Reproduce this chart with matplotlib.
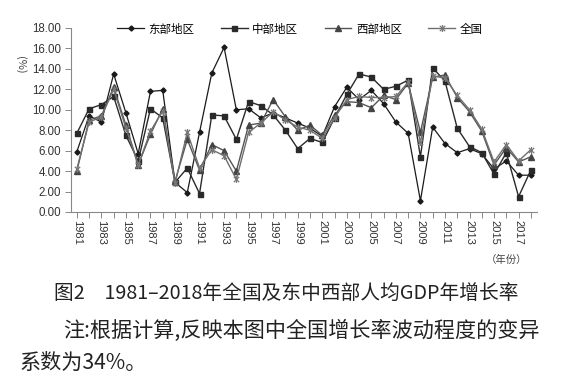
import matplotlib
matplotlib.use("Agg")
import matplotlib.pyplot as plt
from matplotlib.path import Path
import numpy as np

years = list(range(1981, 2019))
east = [5.9, 9.4, 8.8, 13.5, 9.7, 5.7, 11.8, 11.9, 2.9, 1.9,
        7.8, 13.6, 16.1, 10.0, 10.1, 9.2, 9.7, 9.2, 8.7, 8.2,
        7.4, 10.3, 12.2, 11.0, 11.9, 10.6, 8.8, 7.7, 1.1, 8.3,
        6.7, 5.8, 6.2, 5.7, 4.2, 5.0, 3.6, 3.6]
central = [7.7, 10.1, 10.5, 11.3, 7.5, 5.0, 10.1, 9.2, 2.9, 4.3,
           1.8, 9.5, 9.4, 7.1, 10.8, 10.4, 9.5, 8.0, 6.2, 7.2,
           6.8, 9.2, 11.5, 13.5, 13.2, 12.0, 12.3, 12.9, 5.4, 14.1,
           12.8, 8.2, 6.4, 5.8, 3.7, 5.8, 1.5, 4.1]
west = [4.0, 9.0, 9.4, 12.2, 8.5, 4.6, 7.6, 10.1, 3.0, 7.1,
        4.1, 6.6, 6.0, 4.0, 8.5, 8.7, 11.0, 9.3, 8.0, 8.5,
        7.5, 9.5, 10.8, 10.7, 10.2, 11.4, 11.0, 12.6, 7.8, 13.2,
        13.4, 11.2, 9.8, 7.9, 4.6, 6.3, 4.9, 5.4]
national = [4.2, 8.8, 9.3, 12.0, 8.2, 4.6, 7.9, 9.9, 2.8, 7.8,
            4.3, 6.1, 5.5, 3.2, 7.8, 8.7, 9.8, 9.0, 8.3, 8.0,
            7.2, 9.2, 11.0, 11.3, 11.2, 11.2, 11.3, 12.7, 6.8, 13.3,
            13.1, 11.4, 10.0, 8.1, 4.9, 6.6, 5.0, 6.1]
series_names = ["东部地区", "中部地区", "西部地区", "全国"]
yticks = [0, 2, 4, 6, 8, 10, 12, 14, 16, 18]
xlabel_years = list(range(1981, 2018, 2))

cjk = ["Noto Sans CJK SC", "DejaVu Sans"]

star = Path([(-1, -1), (1, 1), (-1, 1), (1, -1), (0, -1.3), (0, 1.3)],
            [Path.MOVETO, Path.LINETO, Path.MOVETO, Path.LINETO, Path.MOVETO, Path.LINETO])

fig = plt.figure(figsize=(5.61, 3.90), dpi=100)
ax = fig.add_axes([70.7/561, 1-212/390, (537-70.7)/561, (212-28)/390])

ax.plot(years, east, color="#1a1a1a", lw=0.9, marker="D", ms=2.6, mfc="#1a1a1a", mec="#1a1a1a", label=series_names[0])
ax.plot(years, central, color="#2a2a2a", lw=1.0, marker="s", ms=3.6, mfc="#2a2a2a", mec="#2a2a2a", label=series_names[1])
ax.plot(years, west, color="#555555", lw=1.0, marker="^", ms=3.8, mfc="#444444", mec="#444444", label=series_names[2])
ax.plot(years, national, color="#6f6f6f", lw=1.0, marker=star, ms=5, mfc="none", mec="#777777", mew=0.9, label=series_names[3])

ax.set_xlim(1980.5, 2018.5)
ax.set_ylim(0, 18)
ax.set_yticks(yticks)
ax.set_yticklabels([f"{v:.2f}" for v in yticks], fontsize=8.3, family="Liberation Sans", color="#333333")
ax.set_xticks(xlabel_years)
ax.set_xticklabels([str(y) for y in xlabel_years], rotation=270, fontsize=8.0,
                   family="Liberation Sans", color="#333333", va="top", ha="center")
ax.set_xticks(years, minor=True)
ax.tick_params(axis="x", which="both", length=4, width=0.7, color="#888888", direction="out", pad=2)
ax.tick_params(axis="y", length=4, width=0.7, color="#888888", direction="out", pad=3)
for s in ["top", "right"]:
    ax.spines[s].set_visible(False)
for s in ["left", "bottom"]:
    ax.spines[s].set_color("#888888")
    ax.spines[s].set_linewidth(0.8)

fig.text(20/561, 1-65/390, "(%)", rotation=270, fontsize=8, family=cjk, color="#444444",
         ha="center", va="center")
fig.text(507/561, 1-260/390, "（年份）", fontsize=7.5, family=cjk, color="#444444", ha="center", va="center")

fig.legend(loc="center", bbox_to_anchor=(300/561, 1-29/390), ncol=4, frameon=False,
           prop={"family": cjk, "size": 8.3}, handlelength=2.3, handletextpad=0.4,
           columnspacing=2.3, borderaxespad=0)

fig.text(54/561, 1-293/390, "图2　1981–2018年全国及东中西部人均GDP年增长率", fontsize=14.2, family=cjk,
         color="#222222", ha="left", va="center")
fig.text(63/561, 1-331/390, "注:根据计算,反映本图中全国增长率波动程度的变异", fontsize=15.2, family=cjk,
         color="#222222", ha="left", va="center")
fig.text(20/561, 1-363/390, "系数为34%。", fontsize=15.2, family=cjk,
         color="#222222", ha="left", va="center")

fig.savefig("out.png", dpi=100, facecolor="white")
